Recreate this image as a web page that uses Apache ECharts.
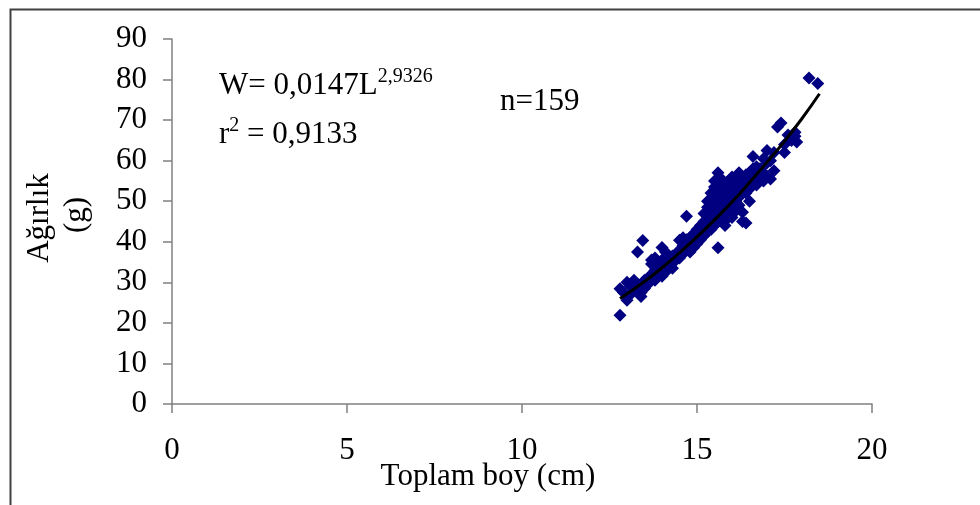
<!DOCTYPE html>
<html>
<head>
<meta charset="utf-8">
<script src="https://cdn.jsdelivr.net/npm/echarts@6/dist/echarts.min.js"></script>
<style>
	html, body { margin: 0; padding: 0; background: #fff; }
	#chart { width: 980px; height: 505px; }
</style>
</head>
<body>
<div id="chart"></div>
<script>
// fish length (cm) / weight (g) pairs
var lengths = [
	12.8, 12.8, 12.9, 13.0, 13.0, 13.1, 13.1, 13.2, 13.3, 13.4, 13.4, 13.3, 13.45, 13.5, 13.5,
	13.6, 13.6, 13.7, 13.7, 13.8, 13.8, 13.9, 13.9, 14.0, 14.0, 14.0, 14.1, 14.1, 14.1, 14.2, 14.2, 13.7, 13.8,
	14.3, 14.3, 14.3, 14.4, 14.4, 14.5, 14.5, 14.5, 14.6, 14.6, 14.7, 14.7, 14.7, 14.8, 14.8, 14.8, 14.9, 14.9, 14.9, 15.0, 15.0, 15.0,
	15.1, 15.1, 15.1, 15.2, 15.2, 15.2, 15.2, 15.3, 15.3, 15.3, 15.3, 15.4, 15.4, 15.4, 15.4, 15.4, 15.5, 15.5, 15.5, 15.5, 15.5, 15.5,
	15.6, 15.6, 15.6, 15.6, 15.6, 15.6, 15.6, 15.7, 15.7, 15.7, 15.7, 15.7, 15.8, 15.8, 15.8, 15.8, 15.8, 15.9, 15.9, 15.9, 15.9, 15.9,
	16.0, 16.0, 16.0, 16.0, 16.0,
	16.1, 16.1, 16.1, 16.1, 16.2, 16.2, 16.2, 16.2, 16.3, 16.3, 16.3, 16.3, 16.4, 16.4, 16.4, 16.4, 16.5, 16.5, 16.5, 16.5,
	16.6, 16.6, 16.6, 16.7, 16.7, 16.7, 16.8, 16.8, 16.9, 16.9, 17.0, 17.0, 17.0, 17.1, 17.2, 17.1, 17.2,
	17.3, 17.4, 17.5, 17.6, 17.7, 17.8, 17.85, 17.8, 18.2, 18.45,
	13.2, 14.0, 14.6, 15.3, 15.8, 16.2, 16.9, 17.5
];
var weights = [
	21.9, 28.4, 27.5, 30.0, 25.6, 29.0, 27.0, 28.5, 29.5, 26.5, 27.5, 37.5, 40.3, 30.5, 28.5,
	31, 29.5, 35.5, 32, 30.5, 33, 31.5, 34, 38.6, 33, 31.5, 35, 37.5, 32.5, 34, 36, 34.5, 36,
	35, 36.5, 33.5, 37, 35.5, 40.4, 36, 38, 37, 39, 46.3, 38.5, 40.5, 39, 41, 37.5, 40, 42, 38.5, 41, 43, 39.5,
	42, 44, 40.5, 43, 45, 41.5, 47, 44, 46, 42.5, 48.5, 45, 47, 43, 50, 52, 46, 48, 44, 51, 53.5, 55,
	38.5, 47, 49, 45, 52, 54.5, 57, 48, 50, 46, 53, 55.5, 49, 51, 47, 54, 44, 50, 52, 48, 55, 46,
	51, 53, 49, 46, 56,
	52, 50, 54, 47.5, 53, 51, 55, 49, 47.3, 53, 55.5, 45, 44.6, 52, 54, 56.5, 55, 53, 57, 50,
	58, 61, 55, 56, 54, 58.5, 56, 58, 55, 57, 59.4, 62.5, 56, 55.5, 57.5, 60, 62,
	68.3, 69.3, 64, 66.3, 65, 67, 64.6, 66, 80.4, 79,
	30.5, 35.5, 41, 50, 52.5, 57, 60.5, 62
];
// power trend line
var trendL = [12.8, 13.5, 14, 14.5, 15, 15.5, 16, 16.5, 17, 17.5, 18, 18.5];
var trendW = [26.0, 30.2, 33.6, 37.3, 41.2, 45.4, 49.8, 54.6, 59.6, 64.8, 70.4, 76.5];

var xTicks = [0, 5, 10, 15, 20];
var yTicks = [0, 10, 20, 30, 40, 50, 60, 70, 80, 90];

var serif = 'Liberation Serif';
var fs = 31;

var chart = echarts.init(document.getElementById('chart'), null, { renderer: 'canvas' });

var points = lengths.map(function (l, i) { return [l, weights[i]]; });
var trend = trendL.map(function (l, i) { return [l, trendW[i]]; });

var axisLine = { show: true, lineStyle: { color: '#808080', width: 1.5 } };
var axisTick = { show: true, inside: false, length: 9, lineStyle: { color: '#808080', width: 1.5 } };

var rich = {
	b: { fontFamily: serif, fontSize: fs, color: '#000', verticalAlign: 'bottom', lineHeight: 34 },
	s: { fontFamily: serif, fontSize: 20, color: '#000', verticalAlign: 'top', lineHeight: 34, padding: [0, 0, 14, 0] }
};

chart.setOption({
	animation: false,
	backgroundColor: '#fff',
	grid: { left: 172, right: 108, top: 39, bottom: 101, containLabel: false },
	xAxis: {
		type: 'value',
		min: xTicks[0],
		max: xTicks[xTicks.length - 1],
		interval: 5,
		axisLine: axisLine,
		axisTick: axisTick,
		splitLine: { show: false },
		axisLabel: { margin: 31, fontFamily: serif, fontSize: fs, color: '#000' }
	},
	yAxis: {
		type: 'value',
		min: yTicks[0],
		max: yTicks[yTicks.length - 1],
		interval: 10,
		axisLine: axisLine,
		axisTick: axisTick,
		splitLine: { show: false },
		axisLabel: { margin: 25, fontFamily: serif, fontSize: fs, color: '#000' }
	},
	graphic: [
		{
			type: 'rect', left: 8, top: 7, silent: true,
			shape: { width: 1000, height: 520 },
			style: { fill: null, stroke: '#404040', lineWidth: 2 }
		},
		{
			type: 'text', x: 488, y: 477, silent: true,
			style: { text: 'Toplam boy (cm)', font: fs + 'px "Liberation Serif"', fill: '#000', align: 'center', verticalAlign: 'middle' }
		},
		{
			type: 'text', x: 40, y: 218, rotation: Math.PI / 2, silent: true,
			style: { text: 'Ağırlık', font: fs + 'px "Liberation Serif"', fill: '#000', align: 'center', verticalAlign: 'middle' }
		},
		{
			type: 'text', x: 77, y: 215, rotation: Math.PI / 2, silent: true,
			style: { text: '(g)', font: fs + 'px "Liberation Serif"', fill: '#000', align: 'center', verticalAlign: 'middle' }
		},
		{
			type: 'text', x: 219, y: 67, silent: true,
			style: { text: '{b|W= 0,0147L}{s|2,9326}', rich: rich }
		},
		{
			type: 'text', x: 219, y: 116, silent: true,
			style: { text: '{b|r}{s|2}{b| = 0,9133}', rich: rich }
		},
		{
			type: 'text', x: 500, y: 102, silent: true,
			style: { text: 'n=159', font: fs + 'px "Liberation Serif"', fill: '#000', align: 'left', verticalAlign: 'middle' }
		}
	],
	series: [
		{
			type: 'scatter',
			data: points,
			symbol: 'diamond',
			symbolSize: 13,
			itemStyle: { color: '#000080', opacity: 1 },
			z: 2
		},
		{
			type: 'line',
			data: trend,
			smooth: true,
			showSymbol: false,
			lineStyle: { color: '#000', width: 3 },
			z: 3
		}
	]
});
</script>
</body>
</html>
